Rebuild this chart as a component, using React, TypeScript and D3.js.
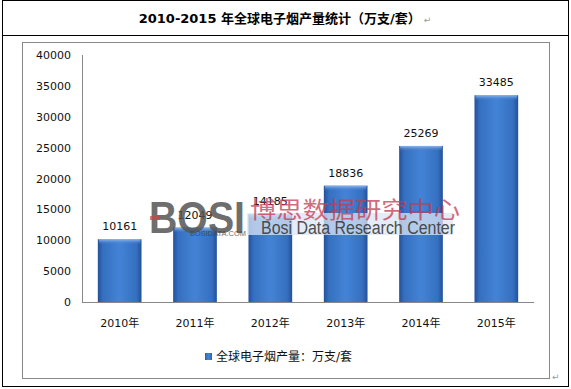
import * as d3 from "d3";
import { useEffect } from "react";

const width = 571;
const height = 389;
const marginLeft = 82;
const marginRight = 37;
const plotTop = 55;
const plotBottom = 302;

const years = ["2010年", "2011年", "2012年", "2013年", "2014年", "2015年"];
const output = [10161, 12049, 14185, 18836, 25269, 33485];
const yTicks = [0, 5000, 10000, 15000, 20000, 25000, 30000, 35000, 40000];

const title = "2010-2015 年全球电子烟产量统计（万支/套）";
const legendLabel = "全球电子烟产量：万支/套";

const font = "'DejaVu Sans', 'Noto Sans CJK SC', sans-serif";

const App = () => {
  useEffect(() => {
    document.body.style.margin = "0";
  }, []);

  const x = d3
    .scaleBand<string>()
    .domain(years)
    .range([marginLeft, width - marginRight])
    .paddingInner(0.42)
    .paddingOuter(0.21);

  const y = d3.scaleLinear().domain([0, 40000]).range([plotBottom, plotTop]);

  return (
    <svg width={width} height={height} style={{ display: "block", background: "#fff" }}>
      <defs>
        <linearGradient id="barFill" x1="0" x2="1" y1="0" y2="0">
          <stop offset="0" stopColor="#24509a" />
          <stop offset="0.12" stopColor="#3670c0" />
          <stop offset="0.5" stopColor="#4383d6" />
          <stop offset="0.88" stopColor="#3670c0" />
          <stop offset="1" stopColor="#24509a" />
        </linearGradient>
        <linearGradient id="barTop" x1="0" x2="0" y1="0" y2="1">
          <stop offset="0" stopColor="#8fb8ec" />
          <stop offset="1" stopColor="#4383d6" stopOpacity="0" />
        </linearGradient>
      </defs>

      {/* outer table frame */}
      <rect x={2.5} y={0.5} width={566} height={386} fill="none" stroke="#000" />
      <line x1={2.5} x2={568.5} y1={35.5} y2={35.5} stroke="#000" />
      <text x={285} y={23} textAnchor="middle" fontFamily={font} fontWeight="bold" fontSize={13}>
        {title}
        <tspan fontWeight="normal" fontSize={9} fill="#999" dx={3}>↵</tspan>
      </text>

      {/* chart frame */}
      <rect x={22.5} y={42.5} width={527} height={336} fill="#fff" stroke="#888" />
      <text x={552} y={380} fontFamily={font} fontSize={9} fill="#999">↵</text>

      {/* y axis */}
      <line x1={marginLeft + 0.5} x2={marginLeft + 0.5} y1={plotTop} y2={plotBottom} stroke="#888" />
      {yTicks.map((t) => (
        <text key={t} x={71} y={y(t) + 4} textAnchor="end" fontFamily={font} fontSize={11} fill="#111">
          {t}
        </text>
      ))}

      {/* bars */}
      {years.map((yr, i) => {
        const bx = x(yr) as number;
        const by = y(output[i]);
        const bh = plotBottom - by;
        return (
          <g key={yr}>
            <rect x={bx} y={by} width={x.bandwidth()} height={bh} fill="url(#barFill)" />
            <rect x={bx + 1} y={by} width={x.bandwidth() - 2} height={5} fill="url(#barTop)" />
            <text
              x={bx + x.bandwidth() / 2}
              y={by - 9}
              textAnchor="middle"
              fontFamily={font}
              fontSize={11}
              fill="#111"
            >
              {output[i]}
            </text>
            <text
              x={bx + x.bandwidth() / 2}
              y={327}
              textAnchor="middle"
              fontFamily={font}
              fontSize={11}
              fill="#111"
            >
              {yr}
            </text>
          </g>
        );
      })}

      {/* x axis */}
      <line x1={marginLeft} x2={width - marginRight} y1={plotBottom + 0.5} y2={plotBottom + 0.5} stroke="#888" />

      {/* watermark */}
      <g>
        <rect x={247} y={213} width={206} height={22} fill="#dbe6f4" opacity={0.75} />
        <text x={149} y={233} fontFamily="'Liberation Sans', sans-serif" fontWeight="bold" fontSize={44} fill="#555" opacity={0.85} textLength={96} lengthAdjust="spacingAndGlyphs">
          BOSI
        </text>
        <rect x={150} y={216} width={10} height={4} fill="#c44" opacity={0.7} />
        <text x={190} y={236} fontFamily="'Liberation Sans', sans-serif" fontSize={7} fill="#444" opacity={0.8} textLength={56} lengthAdjust="spacingAndGlyphs">
          BOSIDATA.COM
        </text>
        <text x={250} y={218} fontFamily={font} fontSize={23} fill="#c43a52" opacity={0.75} textLength={210} lengthAdjust="spacingAndGlyphs">
          博思数据研究中心
        </text>
        <text x={261} y={234} fontFamily="'Liberation Sans Narrow', 'Liberation Sans', sans-serif" fontSize={18} fill="#333" opacity={0.85} textLength={194} lengthAdjust="spacingAndGlyphs">
          Bosi Data Research Center
        </text>
      </g>

      {/* legend */}
      <rect x={205} y={353} width={7} height={7} fill="url(#barFill)" />
      <text x={216} y={361} fontFamily={font} fontSize={12} fill="#111">
        {legendLabel}
      </text>
    </svg>
  );
};

export default App;
